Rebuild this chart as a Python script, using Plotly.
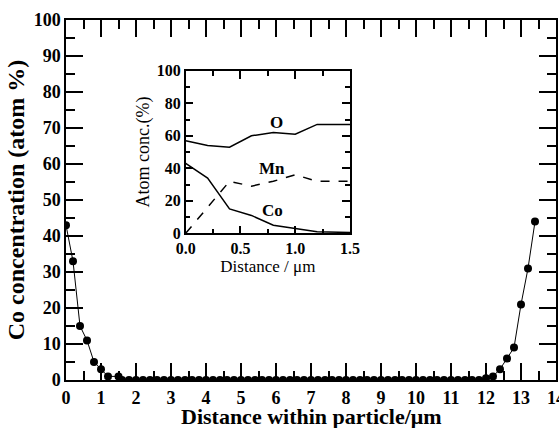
import plotly.graph_objects as go

# Main profile: Co concentration across particle
main_x = [0.0, 0.2, 0.4, 0.6, 0.8, 1.0, 1.2, 1.5] + [round(1.6 + 0.2 * i, 1) for i in range(52)] + \
         [12.0, 12.2, 12.4, 12.6, 12.8, 13.0, 13.2, 13.4]
main_y = [43, 33, 15, 11, 5, 3, 1, 1] + [0] * 52 + [0.5, 1, 3, 6, 9, 21, 31, 44]

# Inset: atom concentration vs distance
inset_x = [0.0, 0.2, 0.4, 0.6, 0.8, 1.0, 1.2, 1.5]
inset_O = [57, 54, 53, 60, 62, 61, 67, 67]
inset_Mn = [0, 16, 32, 29, 32, 36, 32, 32]
inset_Co = [43, 34, 15, 11, 5, 3, 1, 0.5]
labels = ["O", "Mn", "Co"]
label_x = [0.83, 0.79, 0.79]
label_y = [68, 40, 14]

FONT = "Liberation Serif"

fig = go.Figure()
fig.add_trace(go.Scatter(x=main_x, y=main_y, mode="lines+markers",
                         line=dict(color="black", width=1),
                         marker=dict(color="black", size=8),
                         showlegend=False, xaxis="x", yaxis="y"))
fig.add_trace(go.Scatter(x=inset_x, y=inset_O, mode="lines", line=dict(color="black", width=1.5),
                         showlegend=False, xaxis="x2", yaxis="y2"))
fig.add_trace(go.Scatter(x=inset_x, y=inset_Mn, mode="lines", line=dict(color="black", width=1.5, dash="dash"),
                         showlegend=False, xaxis="x2", yaxis="y2"))
fig.add_trace(go.Scatter(x=inset_x, y=inset_Co, mode="lines", line=dict(color="black", width=1.5),
                         showlegend=False, xaxis="x2", yaxis="y2"))

for t, lx, ly in zip(labels, label_x, label_y):
    fig.add_annotation(x=lx, y=ly, xref="x2", yref="y2", text="<b>%s</b>" % t, showarrow=False,
                       font=dict(family=FONT, size=17, color="black"))

# main x-axis title placed as paper annotation just below the tick labels
fig.add_annotation(x=0.5, y=-0.1, xref="paper", yref="paper", xanchor="center", yanchor="middle",
                   text="<b>Distance within particle/μm</b>", showarrow=False,
                   font=dict(family=FONT, size=22, color="black"))

axis_common = dict(showgrid=False, zeroline=False, showline=True, linecolor="black", linewidth=1.5,
                   mirror="allticks", ticks="inside", tickcolor="black", automargin=False)

fig.update_layout(
    width=559, height=428,
    margin=dict(l=66, r=3, t=20, b=48),
    plot_bgcolor="white", paper_bgcolor="white",
    font=dict(family=FONT, color="black"),
    xaxis=dict(**axis_common, range=[0, 14], dtick=1, ticklen=17, tickwidth=1.5,
               minor=dict(dtick=0.5, ticklen=9, tickwidth=1.5, ticks="inside", tickcolor="black"),
               tickfont=dict(family=FONT, size=18), tickprefix="<b>", ticksuffix="</b>",
               ticklabelstandoff=1, ticklabeloverflow="allow",
               domain=[0, 1]),
    yaxis=dict(**axis_common, range=[0, 100], dtick=10, ticklen=17, tickwidth=1.5,
               minor=dict(dtick=5, ticklen=9, tickwidth=1.5, ticks="inside", tickcolor="black"),
               tickfont=dict(family=FONT, size=18), tickprefix="<b>", ticksuffix="</b>",
               title=dict(text="<b>Co concentration (atom %)</b>", font=dict(family=FONT, size=24), standoff=2),
               domain=[0, 1]),
    xaxis2=dict(**axis_common, range=[0, 1.5], dtick=0.5, tickformat=".1f", ticklen=8, tickwidth=1.5,
                minor=dict(dtick=0.25, ticklen=5, tickwidth=1.5, ticks="inside", tickcolor="black"),
                tickfont=dict(family=FONT, size=16), tickprefix="<b>", ticksuffix="</b>",
                title=dict(text="Distance / μm", font=dict(family=FONT, size=17), standoff=0),
                domain=[0.2443, 0.5796], anchor="y2"),
    yaxis2=dict(**axis_common, range=[0, 100], dtick=20, ticklen=8, tickwidth=1.5,
                minor=dict(dtick=10, ticklen=5, tickwidth=1.5, ticks="inside", tickcolor="black"),
                tickfont=dict(family=FONT, size=16), tickprefix="<b>", ticksuffix="</b>",
                title=dict(text="Atom conc.(%)", font=dict(family=FONT, size=18), standoff=2),
                domain=[0.4075, 0.859], anchor="x2"),
)

fig.write_html("out.html", config={"displayModeBar": False},
               post_script="document.body.style.margin='0';document.body.style.overflow='hidden';")
